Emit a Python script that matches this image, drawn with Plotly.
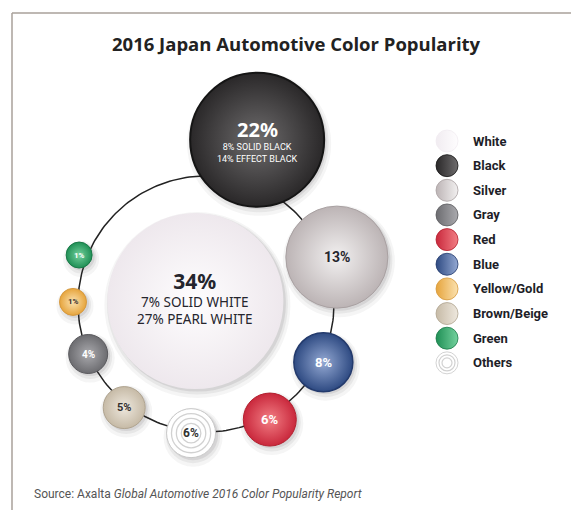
import math
import plotly.graph_objects as go

# ---------------- data ----------------
categories = ["White", "Black", "Silver", "Gray", "Red", "Blue",
              "Yellow/Gold", "Brown/Beige", "Green", "Others"]
shares = [34, 22, 13, 4, 6, 8, 1, 5, 1, 6]
white_parts = [("SOLID WHITE", 7), ("PEARL WHITE", 27)]
black_parts = [("SOLID BLACK", 8), ("EFFECT BLACK", 14)]
title = "2016 Japan Automotive Color Popularity"
source = "Source: Axalta <i>Global Automotive 2016 Color Popularity Report</i>"

# ---------------- layout / style ----------------
W, H = 571, 510
ring_c = (206, 304)
ring_r = 128
# polar placement of each bubble around the ring centre (deg, px)
place = {
    "White": (-164.7, 11), "Black": (-72.7, 172), "Silver": (-19.7, 139),
    "Gray": (157.0, 128), "Red": (61.1, 132), "Blue": (26.4, 131),
    "Yellow/Gold": (180.9, 133), "Brown/Beige": (128.3, 132),
    "Green": (201.1, 136), "Others": (96.6, 130),
}
diam = {"White": 176, "Black": 134, "Silver": 102, "Gray": 39, "Red": 53,
        "Blue": 59, "Yellow/Gold": 27, "Brown/Beige": 42, "Green": 26, "Others": 49}
edge_col = {"White": "#eee8ed", "Black": "#2a2829", "Silver": "#bcb4b5",
            "Gray": "#6c6c70", "Red": "#c9283c", "Blue": "#2e4a82",
            "Yellow/Gold": "#e6a43c", "Brown/Beige": "#c6baa6",
            "Green": "#1f8f55", "Others": "#ffffff"}
mid_col = {"White": "#fefdfe", "Black": "#6e6c6d", "Silver": "#f2f0f0",
           "Gray": "#aaaaae", "Red": "#f27e84", "Blue": "#94a9d3",
           "Yellow/Gold": "#fbe2b0", "Brown/Beige": "#eee8de",
           "Green": "#74d29e", "Others": "#ffffff"}
line_col = {"White": "rgba(0,0,0,0)", "Black": "#151515", "Silver": "#a9a1a2",
            "Gray": "#5a5a5e", "Red": "#b3202f", "Blue": "#233a6c",
            "Yellow/Gold": "#d69a40", "Brown/Beige": "#b0a490",
            "Green": "#1a7a48", "Others": "#c8c8c8"}
line_w = {"White": 0, "Black": 2, "Silver": 1, "Gray": 1, "Red": 1, "Blue": 1.5,
          "Yellow/Gold": 1, "Brown/Beige": 1, "Green": 1, "Others": 1}
txt_col = {"White": "#25252d", "Black": "#ffffff", "Silver": "#25252d",
           "Gray": "#ffffff", "Red": "#ffffff", "Blue": "#ffffff",
           "Yellow/Gold": "#3a3030", "Brown/Beige": "#333030",
           "Green": "#ffffff", "Others": "#333333"}
txt_size = {"White": 21, "Black": 20, "Silver": 14, "Gray": 10, "Red": 13,
            "Blue": 13, "Yellow/Gold": 8, "Brown/Beige": 11, "Green": 8, "Others": 12}
txt_dy = {"Black": -10}

FONT = "Liberation Sans Narrow, Roboto, sans-serif"

xs, ys = [], []
for c in categories:
    a, d = place[c]
    xs.append(ring_c[0] + d * math.cos(math.radians(a)))
    ys.append(ring_c[1] + d * math.sin(math.radians(a)))

# draw order: large bubbles first
order = sorted(range(len(categories)), key=lambda i: -diam[categories[i]])

fig = go.Figure()

# ring
n = 241
fig.add_trace(go.Scatter(
    x=[ring_c[0] + ring_r * math.cos(2 * math.pi * k / (n - 1)) for k in range(n)],
    y=[ring_c[1] + ring_r * math.sin(2 * math.pi * k / (n - 1)) for k in range(n)],
    mode="lines", line=dict(color="#222222", width=1.5), hoverinfo="skip"))

for i in order:
    c = categories[i]
    # soft shadow
    for grow, dx, dy, op in [(10, 2, 4, 0.05), (5, 2, 3, 0.07), (1, 2, 2, 0.10)]:
        fig.add_trace(go.Scatter(
            x=[xs[i] + dx], y=[ys[i] + dy], mode="markers",
            marker=dict(size=diam[c] + grow, color=f"rgba(60,50,60,{op})", line=dict(width=0)),
            hoverinfo="skip"))
    fig.add_trace(go.Scatter(
        x=[xs[i]], y=[ys[i]], mode="markers", name=c,
        marker=dict(size=diam[c], color=edge_col[c],
                    gradient=dict(type="radial", color=mid_col[c]),
                    line=dict(color=line_col[c], width=line_w[c])),
        hovertemplate=f"{c}: {shares[i]}%<extra></extra>"))
    if c == "Others":
        d0 = diam[c]
        fig.add_trace(go.Scatter(
            x=[xs[i]] * 3, y=[ys[i]] * 3, mode="markers",
            marker=dict(symbol="circle-open", size=[d0 * 0.8, d0 * 0.6, d0 * 0.4],
                        color="#bdbdbd", line=dict(width=1.3)),
            hoverinfo="skip"))

annotations = []
for i, c in enumerate(categories):
    if c == "White":
        # percentage + breakdown as one text block
        sub = "<br>".join(f"{v}% {k}" for k, v in white_parts)
        annotations.append(dict(
            x=xs[i], y=ys[i], yshift=4,
            text=f"<span style='font-size:{txt_size[c]}px'><b>{shares[i]}%</b></span><br>{sub}",
            showarrow=False, font=dict(family="Noto Sans, sans-serif", size=13.5, color=txt_col[c])))
        continue
    annotations.append(dict(
        x=xs[i], y=ys[i], yshift=-txt_dy.get(c, 0), text=f"<b>{shares[i]}%</b>",
        showarrow=False, font=dict(family=FONT if txt_size[c] < 15 else "Noto Sans, sans-serif",
                                   size=txt_size[c], color=txt_col[c])))
ib = categories.index("Black")
annotations.append(dict(
    x=xs[ib], y=ys[ib], yshift=-13,
    text="<br>".join(f"{v}% {k}" for k, v in black_parts),
    showarrow=False, font=dict(family=FONT, size=9, color="#ffffff")))

# legend (custom)
leg_x, leg_y0, leg_dy = 447, 141, 24.65
leg_ys = [leg_y0 + k * leg_dy for k in range(len(categories))]
fig.add_trace(go.Scatter(
    x=[leg_x] * len(categories), y=leg_ys, mode="markers",
    marker=dict(size=22, color=[edge_col[c] if c != "White" else "#f1ecf1" for c in categories],
                gradient=dict(type="horizontal", color=[mid_col[c] for c in categories]),
                line=dict(color=[line_col[c] if c not in ("White",) else "#f1ecf1" for c in categories],
                          width=0.8)),
    hoverinfo="skip"))
fig.add_trace(go.Scatter(
    x=[leg_x] * 2, y=[leg_ys[-1]] * 2, mode="markers",
    marker=dict(symbol="circle-open", size=[16, 10], color="#bdbdbd", line=dict(width=1.2)),
    hoverinfo="skip"))
for k, c in enumerate(categories):
    annotations.append(dict(x=leg_x + 24, y=leg_ys[k], xanchor="left", text=f"<b>{c}</b>",
                            showarrow=False, font=dict(family=FONT, size=13, color="#1e1e28")))

annotations.append(dict(x=296, y=43, text=f"<b>{title}</b>", showarrow=False,
                        font=dict(family="Open Sans, sans-serif", size=18.5, color="#222222")))
annotations.append(dict(x=32, y=494, xanchor="left", text=source, showarrow=False,
                        font=dict(family=FONT, size=12, color="#555555")))

shapes = [
    dict(type="line", x0=12, x1=W, y0=13, y1=13, line=dict(color="#a8a09a", width=1.5)),
    dict(type="line", x0=12, x1=12, y0=13, y1=H, line=dict(color="#a8a09a", width=1.5)),
]

fig.update_layout(
    width=W, height=H, margin=dict(l=0, r=0, t=0, b=0),
    paper_bgcolor="white", plot_bgcolor="white", showlegend=False,
    xaxis=dict(range=[0, W], visible=False, fixedrange=True),
    yaxis=dict(range=[H, 0], visible=False, fixedrange=True),
    annotations=annotations, shapes=shapes,
)
fig.write_html("out.html", config={"displayModeBar": False})
